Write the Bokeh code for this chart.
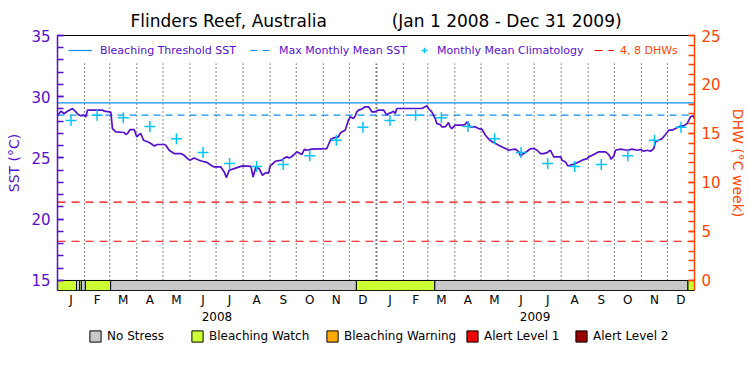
import datetime as dt
from bokeh.plotting import figure
from bokeh.layouts import column
from bokeh.models import (Range1d, LinearAxis, FixedTicker, Legend, LegendItem,
                          ColumnDataSource)
from bokeh.embed import file_html
from bokeh.resources import INLINE

# ---------------- data ----------------
title_text = "Flinders Reef, Australia" + "\u00a0" * 12 + "(Jan 1 2008 - Dec 31 2009)"
month_letters = ["J", "F", "M", "A", "M", "J", "J", "A", "S", "O", "N", "D"]
years = [2008, 2009]
# monthly mean climatology (deg C), Jan..Dec
clim = [28.07, 28.48, 28.28, 27.57, 26.56, 25.44, 24.55, 24.30, 24.46, 25.18, 26.45, 27.50]
threshold_sst = 29.5
mmm_sst = 28.5
dhw_levels = [4, 8]

# SST series: day offset from Jan 1 2008, value deg C
sst_day = [0, 3.8, 7.7, 11.5, 17.2, 21, 23.7, 26.8, 29.8, 32.5,
           34.4, 51.6, 53.6, 59.3, 61.2, 63.1, 67, 76.5, 78.4, 80.3,
           83.4, 88, 91, 93.7, 95.6, 98.7, 103.3, 107.1, 110.9, 114.8,
           122.4, 124.3, 128.1, 133.9, 141.5, 145.4, 149.2, 151.9, 156.8, 162.6,
           166.4, 172.1, 176, 179.8, 187.4, 191.3, 193.9, 197, 202.7, 208.5,
           212.3, 221.9, 224.5, 227.6, 231.4, 235.2, 239.1, 242.1, 244, 246,
           249.8, 257.4, 260.5, 263.1, 265.8, 268.9, 272.7, 274.6, 278.4, 280.4,
           283.4, 286.1, 291.8, 309, 311, 313.6, 316.7, 322.4, 324.3, 326.3,
           330.1, 332, 333.9, 335.8, 339.6, 341.6, 343.5, 345.4, 349.2, 353,
           356.9, 358.8, 360.7, 364.5, 368.3, 374.1, 377.9, 379.8, 383.6, 385.5,
           387.5, 389.4, 418.1, 421.9, 423.8, 425.7, 429.5, 431.4, 433.4, 435.3,
           439.1, 441, 444.8, 446.7, 448.7, 450.6, 452.5, 454.4, 456.3, 464,
           467.8, 469.7, 471.6, 473.5, 479.3, 483.1, 487, 491.1, 495, 498.8,
           502.6, 506.4, 510.3, 514.1, 517.9, 521.7, 525.6, 529.4, 531.3, 535.1,
           539, 542.8, 546.6, 550.4, 554.3, 558.1, 561.9, 563.8, 565.7, 567.6,
           569.6, 577.2, 579.1, 582.9, 585.6, 590.6, 594.4, 598.2, 602.1, 607.8,
           609.7, 615.5, 621.2, 628.8, 632.7, 635.3, 638.4, 640.3, 646, 653.7,
           659.4, 665.2, 669, 672.8, 676.7, 680.5, 684.3, 686.2, 690, 693.9,
           697.7, 701.5, 705.3, 709.2, 714.9, 718.7, 722.6, 726.4, 729.4, 731]
sst_val = [28.44, 28.82, 28.63, 28.82, 29.04, 28.77, 28.55, 28.44, 28.50, 28.36,
           28.91, 28.91, 28.82, 28.77, 28.72, 27.40, 27.13, 27.08, 26.92, 27.00,
           27.32, 27.32, 26.72, 26.92, 27.00, 26.45, 26.32, 26.18, 25.99, 26.10,
           26.10, 26.04, 25.63, 25.36, 25.36, 25.22, 24.95, 24.82, 25.00, 24.82,
           24.73, 24.62, 24.41, 24.27, 24.27, 23.86, 23.40, 24.00, 24.13, 24.27,
           24.35, 24.32, 23.45, 24.27, 24.13, 23.59, 23.80, 23.75, 24.35, 24.46,
           24.73, 24.82, 25.00, 25.09, 25.00, 25.12, 25.36, 25.50, 25.36, 25.28,
           25.72, 25.63, 25.72, 25.77, 26.10, 26.53, 26.64, 26.72, 27.00, 27.13,
           27.27, 27.68, 28.09, 28.36, 28.22, 28.44, 28.77, 28.91, 28.99, 29.18,
           29.18, 28.99, 28.77, 28.77, 28.91, 28.91, 28.50, 28.63, 28.72, 28.82,
           28.63, 29.04, 29.04, 29.18, 29.26, 29.04, 28.77, 28.50, 28.22, 27.81,
           27.73, 27.54, 27.54, 27.68, 27.90, 27.54, 27.40, 27.54, 27.68, 27.68,
           27.73, 27.95, 27.81, 27.54, 27.54, 27.40, 27.35, 26.86, 26.53, 26.32,
           26.18, 26.04, 25.90, 25.77, 25.63, 25.69, 25.72, 25.50, 25.17, 25.36,
           25.55, 25.77, 25.77, 25.63, 25.36, 25.36, 25.44, 25.55, 25.63, 25.36,
           25.09, 25.09, 24.82, 24.68, 24.35, 24.46, 24.54, 24.68, 24.82, 24.95,
           25.09, 25.28, 25.50, 25.50, 25.28, 24.90, 25.17, 25.63, 25.72, 25.63,
           25.72, 25.63, 25.69, 25.55, 25.63, 25.55, 25.77, 26.32, 26.45, 26.59,
           26.92, 27.27, 27.27, 27.40, 27.62, 27.62, 27.81, 28.36, 28.44, 28.22]

# stress bar segments (day offsets) and category index
stress_start = [0, 21.8, 25.5, 27.5, 32, 61, 343, 433, 723.5]
stress_end = [21.8, 25.5, 27.5, 32, 61, 343, 433, 723.5, 731]
stress_level = [1, 0, 1, 0, 1, 0, 1, 0, 1]
stress_names = ["No Stress", "Bleaching Watch", "Bleaching Warning", "Alert Level 1", "Alert Level 2"]
stress_colors = ["#C8C8C8", "#CCFF33", "#FFAA00", "#EE0000", "#990000"]

# ---------------- styling constants ----------------
FONT = "DejaVu Sans"
PURPLE = "#5511CC"
ORANGE = "#FF4500"
BLUE = "#1090F0"
CYAN = "#00C4F8"
RED = "#EE0000"
SST_BOTTOM = 14.18
DOT_TOP = 32.7
NAN = float("nan")
KEY_OFFSETS = [31, 133, 268, 408, 517]   # screen px of each key box from the frame's left edge

origin = dt.date(2008, 1, 1)
month_starts, month_mids, mid_labels = [], [], []
for y in years:
    for m in range(1, 13):
        s = (dt.date(y, m, 1) - origin).days
        e = (dt.date(y + (m == 12), m % 12 + 1, 1) - origin).days
        month_starts.append(s)
        month_mids.append(s + (e - s) / 2.0)
        mid_labels.append(month_letters[m - 1])
year_mids = [(dt.date(y, 7, 2) - origin).days for y in years]
end_day = (dt.date(2010, 1, 1) - origin).days
year_bounds = [(dt.date(y, 1, 1) - origin).days for y in years[1:]]

p = figure(width=750, height=326, output_backend="svg", toolbar_location=None,
           x_range=Range1d(0, end_day), y_range=Range1d(SST_BOTTOM, 35),
           x_axis_location=None, y_axis_location=None,
           min_border_left=57, min_border_right=56, min_border_top=35, min_border_bottom=36)
p.extra_y_ranges = {"dhw": Range1d((SST_BOTTOM - 15) * 1.25, 25)}
p.outline_line_color = "black"
p.outline_line_width = 1
p.background_fill_color = "white"
p.border_fill_color = "white"
p.grid.visible = False

p.title.text = title_text
p.title.align = "center"
p.title.text_font = FONT
p.title.text_font_size = "17px"
p.title.text_font_style = "normal"
p.title.text_color = "black"

# month dotted lines
inner_starts = [d for d in month_starts if d > 0 and d not in year_bounds]
p.segment(x0=inner_starts, x1=inner_starts, y0=15, y1=DOT_TOP,
          line_color="black", line_dash="1 3", line_width=1)
p.segment(x0=year_bounds, x1=year_bounds, y0=15, y1=DOT_TOP,
          line_color="black", line_dash="1 3", line_width=2)

# reference lines
r_thr = p.segment(x0=0, x1=end_day, y0=threshold_sst, y1=threshold_sst,
                  line_color=BLUE, line_width=1.2)
r_mmm = p.segment(x0=0, x1=end_day, y0=mmm_sst, y1=mmm_sst,
                  line_color=BLUE, line_width=1.2, line_dash="7 5")
r_dhw = p.segment(x0=0, x1=end_day, y0=dhw_levels, y1=dhw_levels, y_range_name="dhw",
                  line_color=RED, line_width=1.2, line_dash="8 6")

# SST line
p.line(sst_day, sst_val, line_color=PURPLE, line_width=1.7)

# climatology crosses
clim_x = month_mids
clim_y = clim * len(years)
r_clim = p.scatter(clim_x, clim_y, marker="cross", size=11, line_width=1.5, line_color=CYAN)

# stress bar
bar_src = ColumnDataSource(dict(left=stress_start, right=stress_end,
                                color=[stress_colors[k] for k in stress_level]))
p.quad(left="left", right="right", bottom=SST_BOTTOM, top=15, source=bar_src,
       fill_color="color", line_color="black", line_width=1)

# axes
yl = LinearAxis(ticker=FixedTicker(ticks=[15, 20, 25, 30, 35], minor_ticks=list(range(15, 36))),
                axis_label="SST (°C)")
yr = LinearAxis(y_range_name="dhw",
                ticker=FixedTicker(ticks=[0, 5, 10, 15, 20, 25], minor_ticks=list(range(0, 26))),
                axis_label="DHW (°C week)")
for ax, col in ((yl, PURPLE), (yr, ORANGE)):
    ax.axis_line_color = col
    ax.axis_line_width = 1.5
    ax.major_tick_in = 6
    ax.major_tick_out = 0
    ax.minor_tick_in = 6
    ax.minor_tick_out = 0
    ax.major_tick_line_color = col
    ax.minor_tick_line_color = col
    ax.major_tick_line_width = 1.5
    ax.minor_tick_line_width = 1.5
    ax.major_label_text_color = col
    ax.major_label_text_font = FONT
    ax.major_label_text_font_size = "15px"
    ax.major_label_standoff = 7
    ax.axis_label_text_color = col
    ax.axis_label_text_font = FONT
    ax.axis_label_text_font_size = "14px"
    ax.axis_label_text_font_style = "normal"
    ax.axis_label_standoff = 6
p.add_layout(yl, "left")
p.add_layout(yr, "right")

xm = LinearAxis(ticker=FixedTicker(ticks=month_mids),
                major_label_overrides={float(k): v for k, v in zip(month_mids, mid_labels)})
xy = LinearAxis(ticker=FixedTicker(ticks=year_mids),
                major_label_overrides={float(k): str(v) for k, v in zip(year_mids, years)})
for ax in (xm, xy):
    ax.axis_line_color = None
    ax.major_tick_line_color = None
    ax.minor_tick_line_color = None
    ax.major_tick_out = 0
    ax.major_tick_in = 0
    ax.major_label_standoff = 2
    ax.major_label_text_font = FONT
    ax.major_label_text_font_size = "12px"
    ax.major_label_text_color = "black"
p.add_layout(xm, "below")
p.add_layout(xy, "below")

# legends
def make_legend(items, loc, color, size, glyph_w, standoff, spacing=10):
    lg = Legend(items=items, location=loc, orientation="horizontal")
    lg.border_line_color = None
    lg.background_fill_alpha = 0
    lg.padding = 0
    lg.margin = 0
    lg.label_text_font = FONT
    lg.label_text_font_size = size
    lg.label_text_color = color
    lg.label_height = 14
    lg.glyph_height = 14
    lg.glyph_width = glyph_w
    lg.label_standoff = standoff
    lg.spacing = spacing
    return lg

p.add_layout(make_legend([LegendItem(label="Bleaching Threshold SST", renderers=[r_thr])],
                         (11, 233), PURPLE, "11px", 24, 8))
p.add_layout(make_legend([LegendItem(label="Max Monthly Mean SST", renderers=[r_mmm])],
                         (193, 233), PURPLE, "11px", 20, 9))
p.add_layout(make_legend([LegendItem(label="Monthly Mean Climatology", renderers=[r_clim])],
                         (360, 233), PURPLE, "11px", 14, 6))
p.add_layout(make_legend([LegendItem(label="4, 8 DHWs", renderers=[r_dhw])],
                         (537, 233), ORANGE, "11px", 20, 6))

# stress-category key, in a strip below the chart (its frame is aligned with the chart's)
k = figure(width=750, height=49, output_backend="svg", toolbar_location=None,
           x_range=Range1d(0, 750), y_range=Range1d(0, 49),
           x_axis_location=None, y_axis_location=None,
           min_border=0, min_border_left=0, min_border_right=0,
           min_border_top=0, min_border_bottom=0)
k.outline_line_color = None
k.grid.visible = False
k.background_fill_color = "white"
k.border_fill_color = "white"
for name, colr, off in zip(stress_names, stress_colors, KEY_OFFSETS):
    src = ColumnDataSource(dict(left=[NAN], right=[NAN], bottom=[NAN], top=[NAN]))
    r = k.quad(left="left", right="right", bottom="bottom", top="top", source=src,
               fill_color=colr, line_color="black", line_width=1)
    k.add_layout(make_legend([LegendItem(label=name, renderers=[r])],
                             (off, 32), "black", "12px", 14, 5))

open("out.html", "w").write(file_html(column(p, k), INLINE))
